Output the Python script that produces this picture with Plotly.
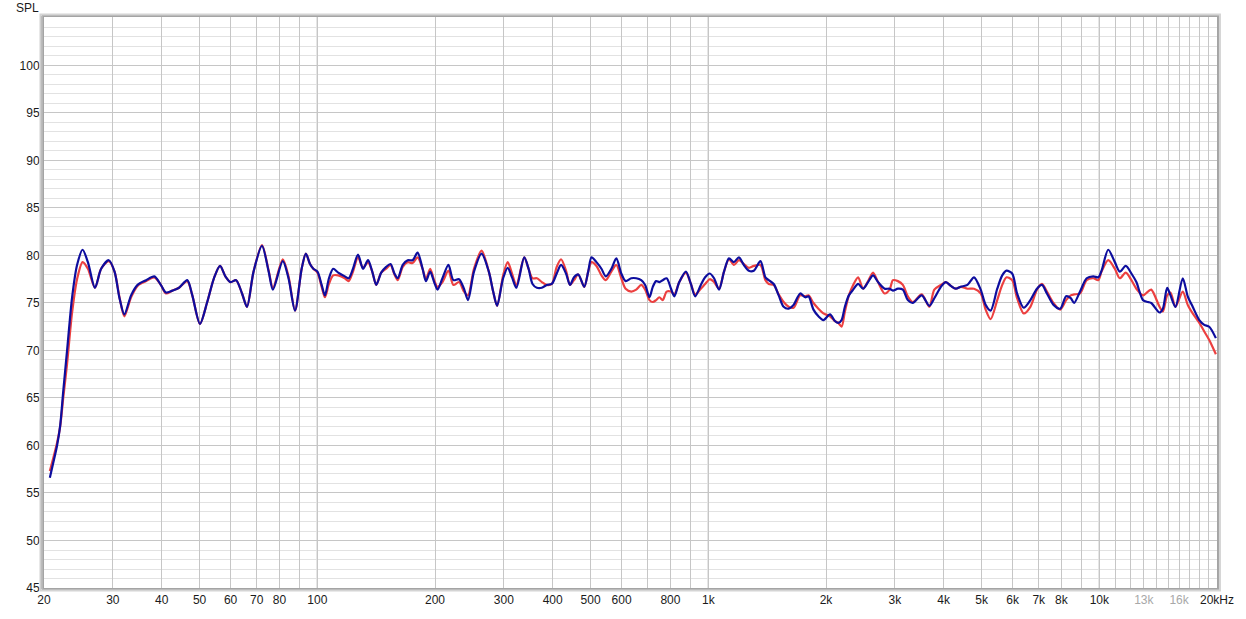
import plotly.graph_objects as go
import math

# ---------------- data ----------------
freq_hz = [
    20.7, 21.1, 21.6, 22.0, 22.4, 22.9, 23.6, 24.3, 25.1, 25.9,
    27.0, 28.0, 29.3, 30.3, 31.2, 32.1, 33.4, 34.7, 36.5, 38.3,
    39.8, 41.0, 42.6, 44.3, 46.5, 47.9, 50.1, 52.3, 54.4, 56.4,
    58.2, 60.0, 62.0, 64.2, 66.1, 68.7, 72.2, 75.1, 77.0, 81.6,
    84.4, 87.7, 91.2, 93.5, 95.8, 97.7, 100.1, 102.6, 104.6, 107.1,
    109.8, 113.1, 117.6, 120.3, 123.4, 127.1, 130.9, 134.8, 138.2, 141.5,
    145.7, 150.0, 153.9, 157.5, 160.6, 165.4, 170.3, 175.3, 180.5, 185.9,
    189.6, 194.4, 199.0, 203, 209, 216.5, 222.9, 230.4, 237.2, 242.9,
    251.6, 263.1, 274.6, 281.7, 288.3, 298.7, 306.9, 314.8, 322.9, 338.3,
    347.0, 355.2, 364.4, 375.2, 386.3, 397.8, 409.6, 420.2, 432.6, 442.9,
    453.4, 465.0, 481.6, 493.0, 502.7, 517.6, 533.0, 546.7, 565.1, 581.9,
    599.1, 614.6, 635.3, 654.1, 673.6, 689.5, 707.2, 721.2, 735.3, 749.8,
    764.6, 782.7, 802.8, 818.6, 842.9, 876.5, 902.5, 925.7, 956.9, 981.5,
    1008.7, 1034.6, 1065.3, 1097, 1129.5, 1163.1, 1197.6, 1233.2, 1269.8, 1307.5,
    1359.5, 1399.9, 1427.6, 1469.9, 1513.6, 1558.5, 1604.8, 1652.5, 1718.2, 1769.2,
    1804.1, 1857.7, 1912.8, 1969.6, 2047.6, 2108, 2149.7, 2192.2, 2235.4, 2288.2,
    2347.1, 2416.9, 2488.3, 2562.1, 2638.2, 2716.9, 2824.8, 2908.7, 2966.5, 3054,
    3144.8, 3238, 3334, 3514, 3675, 3785, 3935, 4052, 4172, 4296,
    4424, 4600, 4783, 4973, 5121, 5273, 5483, 5646, 5791, 5986,
    6163, 6408, 6664, 6928, 7134, 7346, 7638, 7942, 8226, 8453,
    8619, 8928, 9283, 9653, 9939, 10135, 10539, 10958, 11283, 11687,
    12081, 12440, 12935, 13318, 13581, 14259, 14541, 14913, 15209, 15660,
    16347, 16833, 17332, 18022, 18557, 19107, 19868,
]

spl_blue = [
    56.6, 58.1, 60.0, 62.1, 65.7, 69.9, 75.6, 79.0, 80.6, 79.3,
    76.6, 78.6, 79.5, 78.3, 75.5, 73.8, 75.8, 76.9, 77.4, 77.8,
    76.9, 76.1, 76.3, 76.6, 77.4, 75.8, 72.8, 75.1, 77.6, 78.9,
    77.8, 77.2, 77.4, 76.0, 74.6, 78.3, 81.0, 78.3, 76.4, 79.4,
    77.6, 74.2, 78.6, 80.2, 79.1, 78.6, 78.3, 76.9, 75.8, 77.6,
    78.6, 78.2, 77.8, 77.6, 78.6, 80.1, 78.6, 79.5, 78.3, 76.9,
    78.2, 78.8, 79.1, 78.1, 77.6, 79.0, 79.5, 79.5, 80.3, 78.6,
    77.3, 78.3, 77.2, 76.4, 77.6, 79.0, 77.4, 77.5, 76.5, 75.3,
    78.3, 80.2, 78.3, 76.2, 74.7, 77.6, 78.7, 77.7, 76.6, 79.8,
    78.6, 77.0, 76.6, 76.6, 76.9, 77.0, 78.1, 79.0, 78.1, 76.9,
    77.7, 78.0, 76.7, 78.3, 79.8, 79.3, 78.6, 77.8, 78.6, 79.7,
    78.1, 77.3, 77.6, 77.6, 77.4, 76.9, 75.6, 76.7, 77.3, 77.2,
    77.4, 77.6, 76.5, 75.7, 77.2, 78.3, 77.0, 75.7, 76.9, 77.7,
    78.1, 77.6, 76.4, 78.3, 79.7, 79.3, 79.8, 79.0, 78.4, 78.4,
    79.4, 77.7, 77.4, 77.0, 75.8, 74.6, 74.4, 74.8, 76.0, 75.6,
    75.7, 74.3, 73.6, 73.2, 73.8, 73.1, 72.9, 73.2, 74.6, 75.8,
    76.4, 77.0, 76.5, 77.2, 77.9, 77.2, 76.5, 76.5, 76.3, 76.5,
    76.4, 75.3, 75.0, 75.8, 74.7, 75.5, 76.7, 77.2, 76.8, 76.5,
    76.7, 76.9, 77.7, 76.4, 74.8, 74.2, 76.5, 77.9, 78.4, 78.1,
    76.0, 74.5, 75.3, 76.5, 76.9, 76.0, 74.8, 74.4, 75.7, 75.5,
    75.0, 76.2, 77.6, 77.8, 77.7, 78.4, 80.6, 79.3, 78.3, 78.9,
    78.1, 77.2, 75.3, 75.1, 75.0, 74.0, 74.4, 76.6, 75.8, 74.6,
    77.6, 75.7, 74.6, 73.2, 72.7, 72.5, 71.3,
]

spl_red = [
    57.3, 58.6, 60.3, 62.0, 65.0, 68.5, 74.0, 77.5, 79.3, 78.6,
    76.6, 78.6, 79.4, 78.3, 75.6, 73.6, 75.6, 76.8, 77.3, 77.7,
    76.9, 76.0, 76.3, 76.6, 77.3, 75.8, 72.8, 75.1, 77.6, 78.9,
    77.8, 77.2, 77.4, 76.0, 74.6, 78.3, 81.1, 78.4, 76.6, 79.6,
    77.8, 74.2, 78.6, 80.2, 79.1, 78.6, 78.2, 76.7, 75.6, 77.0,
    77.9, 77.9, 77.6, 77.3, 78.3, 79.8, 78.7, 79.3, 78.3, 76.9,
    78.2, 78.6, 79.0, 78.0, 77.4, 78.8, 79.3, 79.2, 79.8, 78.6,
    77.5, 78.6, 77.4, 76.7, 77.2, 78.4, 76.9, 77.2, 76.2, 75.8,
    78.6, 80.5, 78.3, 76.2, 74.7, 77.9, 79.3, 78.1, 76.9, 79.8,
    78.6, 77.6, 77.6, 77.2, 76.9, 77.0, 78.8, 79.6, 78.4, 76.9,
    77.4, 78.0, 76.7, 78.3, 79.3, 78.9, 77.9, 77.4, 78.3, 79.0,
    77.6, 76.5, 76.2, 76.4, 76.9, 76.4, 75.3, 75.1, 75.3, 75.6,
    75.3, 76.2, 76.2, 75.9, 77.2, 78.2, 77.0, 75.9, 76.5, 77.0,
    77.5, 77.2, 76.5, 78.3, 79.6, 79.0, 79.5, 79.1, 78.7, 78.9,
    79.0, 77.4, 77.0, 76.9, 75.9, 75.1, 74.6, 74.5, 75.8, 75.7,
    75.8, 75.0, 74.4, 73.9, 73.6, 73.1, 72.9, 72.5, 74.1, 75.8,
    76.9, 77.7, 76.5, 77.3, 78.2, 77.2, 76.0, 76.4, 77.4, 77.3,
    76.9, 75.7, 75.1, 75.9, 74.6, 76.4, 76.9, 77.2, 76.8, 76.5,
    76.7, 76.5, 76.5, 76.0, 74.3, 73.3, 75.3, 76.9, 77.7, 77.4,
    75.5, 73.9, 74.6, 76.4, 77.0, 76.2, 75.0, 74.3, 75.3, 75.8,
    75.9, 76.0, 77.4, 77.6, 77.4, 78.3, 79.5, 78.6, 77.6, 78.2,
    77.4, 76.5, 75.8, 76.2, 76.4, 74.6, 74.1, 75.8, 76.1, 74.6,
    76.2, 74.8, 73.9, 72.9, 72.0, 71.1, 69.6,
]

assert len(freq_hz) == len(spl_blue) == len(spl_red)

# x grid lines and labels
x_grid = [20, 30, 40, 50, 60, 70, 80, 90,
          100, 200, 300, 400, 500, 600, 700, 800, 900,
          1000, 2000, 3000, 4000, 5000, 6000, 7000, 8000, 9000,
          10000, 11000, 12000, 13000, 14000, 15000, 16000, 17000, 18000, 19000, 20000]
x_labels = ["20", "30", "40", "50", "60", "70", "80", "",
            "100", "200", "300", "400", "500", "600", "", "800", "",
            "1k", "2k", "3k", "4k", "5k", "6k", "7k", "8k", "",
            "10k", "", "", '<span style="color:#a8a8a8">13k</span>', "", "",
            '<span style="color:#a8a8a8">16k</span>', "", "", "", "20kHz"]
decades = [100, 1000, 10000]
y_ticks = [45, 50, 55, 60, 65, 70, 75, 80, 85, 90, 95, 100]

# ---------------- figure ----------------
fig = go.Figure()
fig.add_trace(go.Scatter(x=freq_hz, y=spl_red, mode="lines",
                         line=dict(color="#ec4040", width=2.2, shape="spline", smoothing=0.8),
                         hoverinfo="skip", showlegend=False))
fig.add_trace(go.Scatter(x=freq_hz, y=spl_blue, mode="lines",
                         line=dict(color="#0d0d9e", width=2.2, shape="spline", smoothing=0.8),
                         hoverinfo="skip", showlegend=False))

# lighten grid above 10 kHz
fig.add_shape(type="rect", xref="x", yref="paper", x0=10000, x1=20000, y0=0, y1=1,
              fillcolor="rgba(255,255,255,0.45)", line_width=0, layer="between")
for d in decades:
    fig.add_shape(type="line", xref="x", yref="paper", x0=d, x1=d, y0=0, y1=1,
                  line=dict(color="#808080", width=1), layer="between")

# soft outer frame (shadow)
fig.add_shape(type="rect", xref="paper", yref="paper", x0=-0.003, x1=1.0025, y0=-0.0045, y1=1.0045,
              line=dict(color="#d4d4d4", width=2), fillcolor="rgba(0,0,0,0)", layer="above")
fig.add_shape(type="line", xref="paper", yref="paper", x0=-0.0019, x1=-0.0019, y0=-0.002, y1=1.002,
              line=dict(color="#bcbcbc", width=2), layer="above")

font = dict(family="Liberation Sans, Arial, sans-serif", size=12, color="#1a1a1a")

fig.update_xaxes(type="log", range=[math.log10(20), math.log10(20000)],
                 tickmode="array", tickvals=x_grid, ticktext=x_labels,
                 showgrid=True, gridcolor="#c6c6c6", gridwidth=1,
                 ticks="", tickfont=font, zeroline=False,
                 showline=True, mirror=True, linecolor="#a4a4a4", linewidth=2)
fig.update_yaxes(range=[45, 105.1], tickmode="array", tickvals=y_ticks,
                 showgrid=True, gridcolor="#c6c6c6", gridwidth=1,
                 minor=dict(tickmode="linear", tick0=45, dtick=1, showgrid=True,
                            gridcolor="#e2e2e2", gridwidth=1, ticks=""),
                 ticks="", tickfont=font, zeroline=False,
                 showline=True, mirror=True, linecolor="#a4a4a4", linewidth=2)

fig.add_annotation(text="SPL", xref="paper", yref="paper", x=0, y=1,
                   xanchor="right", yanchor="bottom", xshift=-3, yshift=0,
                   showarrow=False, font=font)

fig.update_layout(width=1246, height=619,
                  margin=dict(l=44, r=22, t=17, b=25),
                  paper_bgcolor="white", plot_bgcolor="white",
                  showlegend=False, hovermode=False)

reset_page = (
    "var h=document.documentElement,b=document.body;"
    "h.style.margin='0';h.style.padding='0';h.style.overflow='hidden';"
    "b.style.margin='0';b.style.padding='0';b.style.overflow='hidden';"
)
fig.write_html("out.html", config={"displayModeBar": False}, post_script=reset_page)
